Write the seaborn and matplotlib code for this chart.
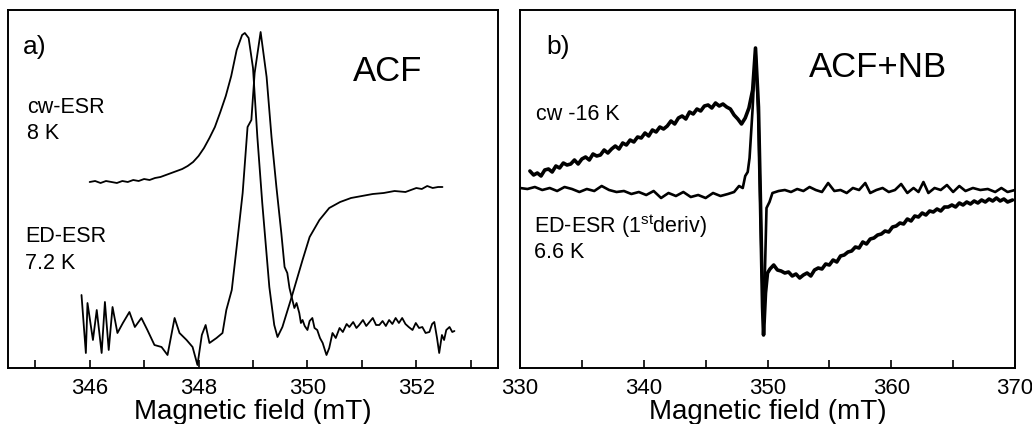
import matplotlib
matplotlib.use("Agg")
import matplotlib.pyplot as plt
import numpy as np
import pandas as pd
import seaborn as sns
from matplotlib.ticker import MultipleLocator

# ---------------- data (y in arbitrary units) ----------------
# panel a) ACF
a_cw_x = [346.0, 346.1, 346.2, 346.3, 346.4, 346.5, 346.6, 346.7, 346.8, 346.9,
          347.0, 347.1, 347.2, 347.3, 347.4, 347.5, 347.6, 347.7, 347.8, 347.9,
          348.0, 348.1, 348.2, 348.3, 348.4, 348.5, 348.6, 348.7, 348.8, 348.85,
          348.92, 349.0, 349.08, 349.17, 349.3, 349.39, 349.45, 349.54, 349.71, 349.91,
          350.04, 350.22, 350.4, 350.6, 350.8, 351.0, 351.2, 351.4, 351.6, 351.8,
          352.0, 352.1, 352.2, 352.3, 352.4, 352.48]
a_cw_y = [186, 187, 185, 187, 186, 185, 187, 186, 188, 187,
          189, 188, 190, 191, 193, 195, 197, 199, 202, 206,
          212, 220, 230, 241, 256, 272, 292, 318, 333, 335,
          330, 300, 231, 165, 81, 43, 31, 41, 71, 108,
          131, 148, 160, 166, 170, 172, 174, 175, 177, 176,
          180, 179, 182, 180, 181, 181]

a_ed_x = [345.85, 345.93, 345.96, 346.06, 346.13, 346.22, 346.28, 346.35, 346.42, 346.51,
          346.61, 346.73, 346.83, 346.95, 347.06, 347.19, 347.32, 347.43, 347.56, 347.65,
          347.78, 347.89, 347.98, 348.06, 348.13, 348.2, 348.33, 348.44, 348.51, 348.61,
          348.7, 348.81, 348.9, 348.97, 349.03, 349.14, 349.25, 349.34, 349.43, 349.52,
          349.58, 349.63, 349.67, 349.71, 349.76, 349.8, 349.85, 349.88, 349.91, 349.95,
          350.0, 350.04, 350.09, 350.13, 350.18, 350.23, 350.28, 350.32, 350.35, 350.4,
          350.46, 350.52, 350.59, 350.65, 350.72, 350.77, 350.84, 350.9, 350.95, 351.02,
          351.08, 351.14, 351.2, 351.26, 351.32, 351.38, 351.44, 351.5, 351.56, 351.62,
          351.68, 351.74, 351.8, 351.86, 351.93, 351.99, 352.05, 352.11, 352.17, 352.24,
          352.29, 352.33, 352.38, 352.42, 352.47, 352.51, 352.55, 352.61, 352.66, 352.7]
a_ed_y = [73, 15, 65, 28, 58, 15, 66, 18, 61, 35,
          45, 56, 41, 50, 38, 23, 21, 13, 50, 35,
          28, 21, 3, 33, 43, 25, 30, 35, 58, 78,
          121, 175, 241, 248, 295, 336, 291, 231, 181, 135,
          101, 95, 80, 71, 60, 65, 55, 45, 48, 42,
          38, 47, 50, 40, 38, 30, 25, 18, 13, 20,
          35, 30, 40, 36, 44, 41, 46, 40, 43, 48,
          42, 46, 50, 43, 43, 47, 42, 48, 44, 50,
          45, 50, 44, 41, 38, 45, 40, 41, 35, 36,
          44, 46, 30, 15, 33, 28, 38, 41, 36, 37]

# panel b) ACF+NB
b_cw_x = [330.8, 331.1, 331.4, 331.7, 332.0, 332.3, 332.6, 332.9, 333.2, 333.5,
          333.8, 334.1, 334.4, 334.7, 335.0, 335.3, 335.6, 335.9, 336.2, 336.5,
          336.8, 337.1, 337.4, 337.7, 338.0, 338.3, 338.6, 338.9, 339.2, 339.5,
          339.8, 340.1, 340.4, 340.7, 341.0, 341.3, 341.6, 341.9, 342.2, 342.5,
          342.8, 343.1, 343.4, 343.7, 344.0, 344.3, 344.6, 344.9, 345.2, 345.5,
          345.8, 346.1, 346.4, 346.7, 347.0, 347.3, 347.6, 347.9, 348.2, 348.5,
          348.8, 349.03, 349.27, 349.44, 349.6, 349.68, 349.84, 350.0, 350.2, 350.5,
          350.8, 351.1, 351.4, 351.7, 352.0, 352.3, 352.6, 352.9, 353.2, 353.5,
          353.8, 354.1, 354.4, 354.7, 355.0, 355.3, 355.6, 355.9, 356.2, 356.5,
          356.8, 357.1, 357.4, 357.7, 358.0, 358.3, 358.6, 358.9, 359.2, 359.5,
          359.8, 360.1, 360.4, 360.7, 361.0, 361.3, 361.6, 361.9, 362.2, 362.5,
          362.8, 363.1, 363.4, 363.7, 364.0, 364.3, 364.6, 364.9, 365.2, 365.5,
          365.8, 366.1, 366.4, 366.7, 367.0, 367.3, 367.6, 367.9, 368.2, 368.5,
          368.8, 369.1, 369.4, 369.8]
b_cw_y = [197, 193, 195, 192, 198, 199, 196, 202, 200, 205,
          203, 204, 208, 204, 209, 211, 208, 214, 212, 213,
          218, 215, 219, 222, 219, 225, 223, 228, 226, 231,
          230, 235, 232, 238, 236, 241, 239, 242, 247, 244,
          250, 252, 249, 256, 254, 259, 257, 262, 263, 260,
          265, 262, 264, 261, 259, 253, 249, 244, 250, 260,
          278, 320, 261, 161, 61, 33, 75, 95, 99, 103,
          98, 97, 95, 96, 92, 94, 90, 93, 95, 92,
          98, 100, 99, 104, 103, 108, 106, 112, 113, 116,
          117, 121, 120, 126, 124, 129, 130, 133, 134, 137,
          136, 141, 142, 145, 144, 149, 147, 152, 151, 155,
          153, 157, 156, 159, 157, 161, 161, 163, 161, 165,
          163, 166, 164, 167, 165, 168, 166, 169, 167, 170,
          167, 169, 166, 168]

b_ed_x = [330.0, 330.6, 331.2, 331.8, 332.4, 333.0, 333.6, 334.2, 334.8, 335.4,
          336.0, 336.6, 337.2, 337.8, 338.4, 339.0, 339.6, 340.2, 340.8, 341.4,
          342.0, 342.6, 343.2, 343.8, 344.4, 345.0, 345.6, 346.2, 346.8, 347.3,
          347.7, 348.0, 348.2, 348.4, 348.55, 348.8, 349.03, 349.27, 349.5, 349.68,
          349.92, 350.16, 350.4, 350.9, 351.4, 351.9, 352.4, 352.9, 353.4, 353.9,
          354.4, 354.9, 355.4, 355.9, 356.4, 356.9, 357.4, 357.9, 358.3, 358.8,
          359.3, 359.8, 360.3, 360.8, 361.3, 361.8, 362.2, 362.6, 363.0, 363.5,
          364.0, 364.5, 365.0, 365.5, 366.0, 366.6, 367.2, 367.8, 368.4, 368.9,
          369.4, 370.0]
b_ed_y = [180, 179, 181, 178, 180, 177, 181, 179, 176, 179,
          177, 182, 178, 176, 177, 174, 176, 173, 177, 170,
          175, 172, 176, 171, 173, 170, 175, 172, 174, 176,
          182, 180, 192, 196, 210, 260, 318, 250, 120, 40,
          160, 166, 175, 177, 178, 176, 179, 177, 181, 178,
          176, 185, 177, 178, 175, 180, 178, 185, 175, 178,
          180, 176, 178, 184, 175, 180, 176, 186, 175, 180,
          178, 183, 176, 182, 177, 180, 178, 179, 176, 180,
          176, 178]

# ---------------- style ----------------
sns.set_style("ticks")
plt.rcParams['font.family'] = ['Liberation Sans', 'DejaVu Sans']
plt.rcParams['mathtext.fontset'] = 'custom'
plt.rcParams['mathtext.rm'] = 'Liberation Sans'
plt.rcParams['text.color'] = 'black'
plt.rcParams['axes.labelcolor'] = 'black'
plt.rcParams['xtick.color'] = 'black'

fig = plt.figure(figsize=(10.32, 4.24), dpi=100)
ax_a = fig.add_axes([8 / 1032, 56 / 424, 490 / 1032, 358 / 424])
ax_b = fig.add_axes([520 / 1032, 56 / 424, 495 / 1032, 358 / 424])


def draw(ax, xs, ys, lw):
    df = pd.DataFrame({'field': xs, 'signal': ys})
    sns.lineplot(data=df, x='field', y='signal', ax=ax, color='black',
                 linewidth=lw, sort=False, estimator=None)


draw(ax_a, a_cw_x, a_cw_y, 1.3)
draw(ax_a, a_ed_x, a_ed_y, 1.3)
draw(ax_b, b_cw_x, b_cw_y, 2.6)
draw(ax_b, b_ed_x, b_ed_y, 1.9)

for ax, (lo, hi), major, minor in [(ax_a, (344.5, 353.5), 2, 1),
                                   (ax_b, (330, 370), 10, 5)]:
    ax.set_xlim(lo, hi)
    ax.set_ylim(0, 358)
    ax.set_yticks([])
    ax.set_ylabel('')
    ax.xaxis.set_major_locator(MultipleLocator(major))
    ax.xaxis.set_minor_locator(MultipleLocator(minor))
    ax.tick_params(axis='x', which='both', direction='in', length=6, width=1.2,
                   top=False, labelsize=16, pad=7, colors='black')
    ax.set_xlabel('Magnetic field (mT)', fontsize=20, labelpad=0, color='black')
    for sp in ax.spines.values():
        sp.set_visible(True)
        sp.set_linewidth(1.4)
        sp.set_color('black')

# annotations panel a
ax_a.text(0.031, 0.897, 'a)', transform=ax_a.transAxes, fontsize=19, va='center', ha='left')
ax_a.text(0.704, 0.827, 'ACF', transform=ax_a.transAxes, fontsize=25, va='center', ha='left')
ax_a.text(0.039, 0.729, 'cw-ESR', transform=ax_a.transAxes, fontsize=15.5, va='center', ha='left')
ax_a.text(0.039, 0.654, '8 K', transform=ax_a.transAxes, fontsize=15.5, va='center', ha='left')
ax_a.text(0.035, 0.366, 'ED-ESR', transform=ax_a.transAxes, fontsize=15.5, va='center', ha='left')
ax_a.text(0.035, 0.293, '7.2 K', transform=ax_a.transAxes, fontsize=15.5, va='center', ha='left')

# annotations panel b
ax_b.text(0.053, 0.897, 'b)', transform=ax_b.transAxes, fontsize=19, va='center', ha='left')
ax_b.text(0.584, 0.838, 'ACF+NB', transform=ax_b.transAxes, fontsize=25, va='center', ha='left')
ax_b.text(0.032, 0.707, 'cw -16 K', transform=ax_b.transAxes, fontsize=15.5, va='center', ha='left')
ax_b.text(0.028, 0.397, r'ED-ESR (1$^{\rm st}$deriv)', transform=ax_b.transAxes,
          fontsize=15.5, va='center', ha='left')
ax_b.text(0.028, 0.324, '6.6 K', transform=ax_b.transAxes, fontsize=15.5, va='center', ha='left')

fig.savefig('out.png', dpi=100)
plt.close(fig)
